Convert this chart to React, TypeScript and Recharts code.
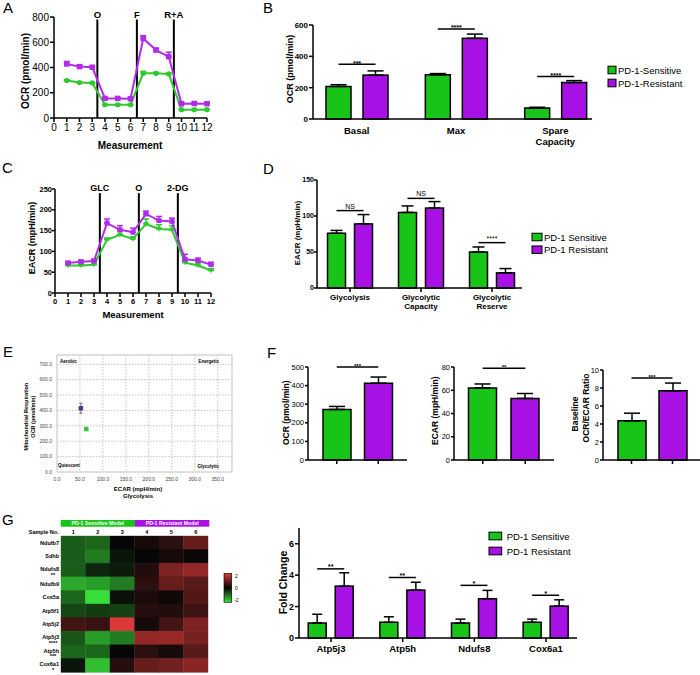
import React from "react";
import {
  LineChart,
  Line,
  BarChart,
  Bar,
  ScatterChart,
  Scatter,
  XAxis,
  YAxis,
  ErrorBar,
  ReferenceLine,
  ReferenceArea,
  CartesianGrid,
  Cell,
} from "recharts";

const FONT = '"Liberation Sans", Arial, Helvetica, sans-serif';
const GREEN = "#18c418";
const PURPLE = "#a711e3";
const GREEN_LINE = "#2fc82f";
const PURPLE_LINE = "#b12ce9";
const AXIS = { stroke: "#000", strokeWidth: 1.5 };

// ---- A: OCR time course
const MEASUREMENTS = [1, 2, 3, 4, 5, 6, 7, 8, 9, 10, 11, 12];
const MEAS_TICKS = [0, 1, 2, 3, 4, 5, 6, 7, 8, 9, 10, 11, 12];
const OCR_SENS = [297, 281, 278, 105, 105, 105, 354, 354, 349, 66, 66, 66];
const OCR_SENS_ERR = [6, 5, 5, 4, 4, 4, 15, 8, 8, 4, 4, 4];
const OCR_RES = [428, 407, 402, 155, 155, 152, 630, 538, 486, 113, 115, 113];
const OCR_RES_ERR = [20, 12, 10, 8, 6, 6, 22, 15, 35, 8, 6, 6];
const OCR_INJ = [3.4, 6.5, 9.4];
const OCR_INJ_LABELS = ["O", "F", "R+A"];
const OCR_TICKS = [0, 200, 400, 600, 800];

// ---- B: OCR parameters
const B_CATS = ["Basal", "Max", "Spare\nCapacity"];
const B_SENS = [208, 282, 70];
const B_SENS_ERR = [11, 8, 5];
const B_RES = [280, 515, 233];
const B_RES_ERR = [27, 27, 12];
const B_SIG = [350, 575, 271];
const B_MARKS = ["***", "****", "****"];
const B_TICKS = [0, 200, 400, 600];

// ---- C: ECAR time course
const ECAR_SENS = [66, 66, 68, 128, 140, 130, 166, 154, 152, 73, 66, 54];
const ECAR_SENS_ERR = [3, 3, 3, 4, 10, 5, 12, 10, 10, 4, 4, 4];
const ECAR_RES = [72, 75, 77, 168, 152, 146, 190, 174, 172, 81, 78, 68];
const ECAR_RES_ERR = [4, 4, 4, 10, 10, 10, 7, 10, 8, 12, 6, 6];
const ECAR_INJ = [3.45, 6.45, 9.45];
const ECAR_INJ_LABELS = ["GLC", "O", "2-DG"];
const ECAR_TICKS = [0, 50, 100, 150, 200, 250];

// ---- D: glycolysis parameters
const D_CATS = ["Glycolysis", "Glycolytic\nCapacity", "Glycolytic\nReserve"];
const D_SENS = [76, 105, 50];
const D_SENS_ERR = [4, 9, 7];
const D_RES = [89, 111, 21];
const D_RES_ERR = [13, 9, 6];
const D_SIG = [107.5, 124.5, 63];
const D_MARKS = ["NS", "NS", "****"];
const D_TICKS = [0, 50, 100, 150];

// ---- E: energy map
const E_SENS = { x: 63.7, y: 279, err: 6 };
const E_RES = { x: 52, y: 414, err: 33 };
const E_XTICKS = [0, 50, 100, 150, 200, 250, 300, 350];
const E_YTICKS = [0, 100, 200, 300, 400, 500, 600, 700];

// ---- F: baseline comparisons
const F_GROUPS = ["Sensitive", "Resistant"];
const F_OCR = [272, 413];
const F_OCR_ERR = [16, 33];
const F_ECAR = [62, 53];
const F_ECAR_ERR = [3.4, 4.2];
const F_RATIO = [4.35, 7.7];
const F_RATIO_ERR = [0.85, 0.85];

// ---- G: heatmap
const HEAT_GENES = ["Ndufb7", "Sdhb", "Ndufs8", "Ndufb9", "Cox5a", "Atp5f1", "Atp5j2", "Atp5j3", "Atp5h", "Cox6a1"];
const HEAT_STARS = ["", "", "**", "", "", "", "", "****", "***", "*"];
const SAMPLES = ["1", "2", "3", "4", "5", "6"];
const HEAT_Z = [
  [-0.8, -0.9, 0, 0.15, 0.35, 0.9],
  [-0.8, -1.1, -0.15, 0, 0.15, 0.05],
  [-0.8, -0.3, -0.2, 0.25, 1.1, 1.3],
  [-1.5, -1.4, -1.1, 0.35, 0.9, 0.75],
  [-0.9, -2, -0.1, 0.2, 0.1, 0.7],
  [-0.6, -0.5, -0.55, 0.3, 0.25, 0.5],
  [0.55, 0.45, 1.95, 0.15, 0.55, 1.1],
  [-0.75, -1.4, -1.1, 1.3, 1.35, 1.05],
  [-0.9, -0.9, 0, 0.35, 0.15, 0.75],
  [-0.15, -1.7, 0.3, 0.9, 1.0, 1.2],
];

// ---- G: qPCR fold change
const G_CATS = ["Atp5j3", "Atp5h", "Ndufs8", "Cox6a1"];
const G_SENS = [0.96, 1.0, 0.95, 1.0];
const G_SENS_ERR = [0.55, 0.35, 0.25, 0.2];
const G_RES = [3.3, 3.05, 2.5, 2.03];
const G_RES_ERR = [0.85, 0.5, 0.53, 0.4];
const G_SIG = [4.4, 3.85, 3.35, 2.72];
const G_MARKS = ["**", "**", "*", "*"];
const G_TICKS = [0, 2, 4, 6];

function heatColor(z: number) {
  const t = Math.min(1, Math.abs(z) / 2);
  const full = z < 0 ? [56, 222, 56] : [224, 58, 58];
  const base = 6;
  const c = full.map((v) => Math.round(base + (v - base) * t));
  return `rgb(${c[0]},${c[1]},${c[2]})`;
}

const square = (color: string, s: number) => (p: any) =>
  <rect key={`sq-${p.index}`} x={p.cx - s / 2} y={p.cy - s / 2} width={s} height={s} fill={color} />;

const circle = (color: string, r: number) => (p: any) =>
  <circle key={`ci-${p.index}`} cx={p.cx} cy={p.cy} r={r} fill={color} />;

const triangle = (color: string, s: number) => (p: any) =>
  <path key={`tr-${p.index}`} d={`M${p.cx - s / 2},${p.cy - s / 2.4}L${p.cx + s / 2},${p.cy - s / 2.4}L${p.cx},${p.cy + s / 2}Z`} fill={color} />;

function CatTick(props: any) {
  const { x, y, payload, fs, dy, lh } = props;
  const lines = String(payload.value).split("\n");
  return (
    <text x={x} y={y} textAnchor="middle" fontSize={fs} fontWeight="bold" fontFamily={FONT} fill="#000">
      {lines.map((l, i) => (
        <tspan key={i} x={x} dy={i === 0 ? dy : lh}>
          {l}
        </tspan>
      ))}
    </text>
  );
}

function timeRows(sens: number[], sensErr: number[], res: number[], resErr: number[]) {
  return MEASUREMENTS.map((m, i) => ({
    m,
    sens: sens[i],
    sErr: [0, sensErr[i]],
    res: res[i],
    rErr: [0, resErr[i]],
  }));
}

function GroupedBars(props: any) {
  const {
    cats, sens, sensErr, res, resErr, sig, marks, width, height, margin, yWidth, xHeight,
    domain, ticks, tickFs, yTickSize, yTickMargin, catFs, catDy, catLh, catTickLine, barSize, barGap, padding,
    errW, sigFs, sigBold, sigDy,
  } = props;
  const rows = cats.map((c: string, i: number) => ({
    cat: c,
    sens: sens[i],
    sErr: [0, sensErr[i]],
    res: res[i],
    rErr: [0, resErr[i]],
  }));
  const purpleShape = (p: any) => {
    const { x, y, width: w, height: h, index, payload } = p;
    const base = y + h;
    const sy = base - (sig[index] * h) / payload.res;
    const c2 = x + w / 2;
    const c1 = c2 - w - barGap;
    return (
      <g>
        <rect x={x} y={y} width={w} height={h} fill={PURPLE} stroke="#000" strokeWidth={1.5} />
        <line x1={c1} x2={c2} y1={sy} y2={sy} stroke="#000" strokeWidth={1.5} />
        <text
          x={(c1 + c2) / 2}
          y={sy + sigDy}
          textAnchor="middle"
          fontSize={sigFs}
          fontWeight={sigBold ? "bold" : "normal"}
          fontFamily={FONT}
          fill="#000"
        >
          {marks[index]}
        </text>
      </g>
    );
  };
  return (
    <BarChart width={width} height={height} data={rows} margin={margin} barSize={barSize} barGap={barGap}>
      <XAxis
        dataKey="cat"
        height={xHeight}
        padding={padding}
        axisLine={AXIS}
        tickLine={catTickLine ? AXIS : false}
        tickSize={4}
        interval={0}
        tick={(p: any) => <CatTick {...p} fs={catFs} dy={catDy} lh={catLh} />}
      />
      <YAxis
        width={yWidth}
        domain={domain}
        ticks={ticks}
        interval={0}
        tickSize={yTickSize}
        tickMargin={yTickMargin}
        axisLine={AXIS}
        tickLine={AXIS}
        tick={{ fontSize: tickFs, fontWeight: "bold", fill: "#000", fontFamily: FONT }}
      />
      <Bar dataKey="sens" fill={GREEN} stroke="#000" strokeWidth={1.5} isAnimationActive={false}>
        <ErrorBar dataKey="sErr" width={errW} stroke="#000" strokeWidth={1.5} isAnimationActive={false} />
      </Bar>
      <Bar dataKey="res" fill={PURPLE} shape={purpleShape} isAnimationActive={false}>
        <ErrorBar dataKey="rErr" width={errW} stroke="#000" strokeWidth={1.5} isAnimationActive={false} />
      </Bar>
    </BarChart>
  );
}

function PairBars(props: any) {
  const { values, errs, sig, mark, width, height, margin, yWidth, domain, ticks, padding } = props;
  const rows = F_GROUPS.map((g, i) => ({ g, v: values[i], err: [0, errs[i]] }));
  return (
    <BarChart width={width} height={height} data={rows} margin={margin} barSize={28}>
      <XAxis
        dataKey="g"
        height={15}
        padding={padding}
        axisLine={AXIS}
        tickLine={AXIS}
        tickSize={4}
        tickFormatter={() => ""}
      />
      <YAxis
        width={yWidth}
        domain={domain}
        ticks={ticks}
        interval={0}
        tickSize={3}
        tickMargin={1}
        axisLine={AXIS}
        tickLine={AXIS}
        tick={{ fontSize: 7.5, fill: "#000", fontFamily: FONT }}
      />
      <Bar dataKey="v" stroke="#000" strokeWidth={1.5} isAnimationActive={false}>
        {rows.map((r, i) => (
          <Cell key={r.g} fill={i === 0 ? GREEN : PURPLE} />
        ))}
        <ErrorBar dataKey="err" width={8} stroke="#000" strokeWidth={1.5} isAnimationActive={false} />
      </Bar>
      <ReferenceLine
        segment={[
          { x: F_GROUPS[0], y: sig },
          { x: F_GROUPS[1], y: sig },
        ]}
        stroke="#000"
        strokeWidth={1.5}
        label={{ value: mark, position: "top", offset: -1, fontSize: 6, fontWeight: "bold", fill: "#000", fontFamily: FONT }}
      />
    </BarChart>
  );
}

function T(props: any) {
  const { x, y, s, b, a = "middle", r, c = "#000", children } = props;
  return (
    <text
      x={x}
      y={y}
      fontSize={s}
      fontWeight={b ? "bold" : "normal"}
      textAnchor={a}
      dominantBaseline="central"
      fill={c}
      fontFamily={FONT}
      transform={r ? `rotate(-90 ${x} ${y})` : undefined}
    >
      {children}
    </text>
  );
}

function LegendItem(props: any) {
  const { x, y, w, h, color, label, fs, gap } = props;
  return (
    <g>
      <rect x={x} y={y - h / 2} width={w} height={h} fill={color} stroke="#000" strokeWidth={1} />
      <T x={x + w + gap} y={y} s={fs} a="start">
        {label}
      </T>
    </g>
  );
}

const pos = (left: number, top: number): React.CSSProperties => ({ position: "absolute", left, top });

export default function App() {
  const aRows = timeRows(OCR_SENS, OCR_SENS_ERR, OCR_RES, OCR_RES_ERR);
  const cRows = timeRows(ECAR_SENS, ECAR_SENS_ERR, ECAR_RES, ECAR_RES_ERR);
  const heatRows = HEAT_GENES.map((g) => {
    const row: any = { gene: g };
    SAMPLES.forEach((s) => (row[`s${s}`] = 1));
    return row;
  });

  return (
    <div style={{ position: "absolute", left: 0, top: 0, width: 700, height: 675, background: "#fff", fontFamily: FONT, overflow: "hidden" }}>
      {/* A */}
      <div style={pos(0, 0)}>
        <LineChart width={225} height={150} data={aRows} margin={{ top: 17, right: 18, bottom: 0, left: 0 }}>
          <XAxis
            type="number"
            dataKey="m"
            domain={[0, 12]}
            ticks={MEAS_TICKS}
            interval={0}
            height={32}
            tickSize={4}
            axisLine={AXIS}
            tickLine={AXIS}
            tick={{ fontSize: 10, fill: "#000", fontFamily: FONT }}
          />
          <YAxis
            width={54}
            domain={[0, 800]}
            ticks={OCR_TICKS}
            interval={0}
            tickSize={4}
            tickMargin={1}
            axisLine={AXIS}
            tickLine={AXIS}
            tick={{ fontSize: 10, fill: "#000", fontFamily: FONT }}
          />
          {OCR_INJ.map((v, i) => (
            <ReferenceLine
              key={v}
              segment={[
                { x: v, y: 0 },
                { x: v, y: 780 },
              ]}
              stroke="#000"
              strokeWidth={2}
              label={{ value: OCR_INJ_LABELS[i], position: "top", offset: 2, fontSize: 9.5, fontWeight: "bold", fill: "#000", fontFamily: FONT }}
            />
          ))}
          <Line dataKey="sens" stroke={GREEN_LINE} strokeWidth={2} dot={circle(GREEN_LINE, 2.6)} isAnimationActive={false}>
            <ErrorBar dataKey="sErr" width={3} stroke={GREEN_LINE} strokeWidth={1.5} direction="y" isAnimationActive={false} />
          </Line>
          <Line dataKey="res" stroke={PURPLE_LINE} strokeWidth={2} dot={square(PURPLE_LINE, 5.5)} isAnimationActive={false}>
            <ErrorBar dataKey="rErr" width={3} stroke={PURPLE_LINE} strokeWidth={1.5} direction="y" isAnimationActive={false} />
          </Line>
        </LineChart>
      </div>

      {/* B */}
      <div style={pos(230, 0)}>
        <GroupedBars
          cats={B_CATS}
          sens={B_SENS}
          sensErr={B_SENS_ERR}
          res={B_RES}
          resErr={B_RES_ERR}
          sig={B_SIG}
          marks={B_MARKS}
          width={370}
          height={150}
          margin={{ top: 25, right: 8, bottom: 0, left: 0 }}
          yWidth={83}
          xHeight={31}
          domain={[0, 600]}
          ticks={B_TICKS}
          tickFs={8}
          yTickSize={4}
          yTickMargin={1}
          catFs={9.5}
          catDy={8.5}
          catLh={11}
          catTickLine={false}
          barSize={25}
          barGap={12}
          padding={{ left: -6, right: -13 }}
          errW={8}
          sigFs={7}
          sigBold
          sigDy={1.5}
        />
      </div>

      {/* C */}
      <div style={pos(0, 150)}>
        <LineChart width={225} height={165} data={cRows} margin={{ top: 39, right: 14, bottom: 0, left: 0 }}>
          <XAxis
            type="number"
            dataKey="m"
            domain={[0, 12]}
            ticks={MEAS_TICKS}
            interval={0}
            height={22}
            tickSize={4}
            axisLine={AXIS}
            tickLine={AXIS}
            tick={{ fontSize: 7.5, fontWeight: "bold", fill: "#000", fontFamily: FONT }}
          />
          <YAxis
            width={55}
            domain={[0, 250]}
            ticks={ECAR_TICKS}
            interval={0}
            tickSize={3}
            tickMargin={0}
            axisLine={AXIS}
            tickLine={AXIS}
            tick={{ fontSize: 7.5, fontWeight: "bold", fill: "#000", fontFamily: FONT }}
          />
          {ECAR_INJ.map((v, i) => (
            <ReferenceLine
              key={v}
              segment={[
                { x: v, y: 0 },
                { x: v, y: 240 },
              ]}
              stroke="#000"
              strokeWidth={2}
              label={{ value: ECAR_INJ_LABELS[i], position: "top", offset: 2, fontSize: 9, fontWeight: "bold", fill: "#000", fontFamily: FONT }}
            />
          ))}
          <Line dataKey="sens" stroke={GREEN_LINE} strokeWidth={2} dot={triangle(GREEN_LINE, 5.5)} isAnimationActive={false}>
            <ErrorBar dataKey="sErr" width={3} stroke={GREEN_LINE} strokeWidth={1.5} direction="y" isAnimationActive={false} />
          </Line>
          <Line dataKey="res" stroke={PURPLE_LINE} strokeWidth={2} dot={square(PURPLE_LINE, 5)} isAnimationActive={false}>
            <ErrorBar dataKey="rErr" width={3} stroke={PURPLE_LINE} strokeWidth={1.5} direction="y" isAnimationActive={false} />
          </Line>
        </LineChart>
      </div>

      {/* D */}
      <div style={pos(230, 150)}>
        <GroupedBars
          cats={D_CATS}
          sens={D_SENS}
          sensErr={D_SENS_ERR}
          res={D_RES}
          resErr={D_RES_ERR}
          sig={D_SIG}
          marks={D_MARKS}
          width={300}
          height={165}
          margin={{ top: 30, right: 8, bottom: 0, left: 0 }}
          yWidth={87}
          xHeight={27}
          domain={[0, 150]}
          ticks={D_TICKS}
          tickFs={7}
          yTickSize={3}
          yTickMargin={0}
          catFs={8}
          catDy={5.8}
          catLh={9}
          catTickLine
          barSize={18}
          barGap={9}
          padding={{ left: -2.5, right: -5.5 }}
          errW={6}
          sigFs={7}
          sigBold={false}
          sigDy={-2}
        />
      </div>

      {/* E */}
      <div style={pos(0, 340)}>
        <ScatterChart width={250} height={165} margin={{ top: 15, right: 18, bottom: 0, left: 0 }}>
          <CartesianGrid stroke="#c4c4c4" strokeDasharray="1.5 1.5" />
          <XAxis
            type="number"
            dataKey="x"
            domain={[0, 381]}
            ticks={E_XTICKS}
            interval={0}
            height={33}
            axisLine={false}
            tickLine={false}
            tickSize={3}
            tickFormatter={(v: number) => v.toFixed(1)}
            tick={{ fontSize: 5, fill: "#444", fontFamily: FONT }}
          />
          <YAxis
            type="number"
            dataKey="y"
            width={57}
            domain={[0, 760]}
            ticks={E_YTICKS}
            interval={0}
            axisLine={false}
            tickLine={false}
            tickSize={3}
            tickFormatter={(v: number) => v.toFixed(1)}
            tick={{ fontSize: 5, fill: "#444", fontFamily: FONT }}
          />
          <ReferenceArea x1={0} x2={381} y1={0} y2={760} fill="none" stroke="#d0d0d0" strokeWidth={1} />
          <Scatter data={[E_RES]} shape={square("#5e2d91", 4.5)} isAnimationActive={false}>
            <ErrorBar dataKey="err" direction="y" width={1.5} stroke="#555" strokeWidth={0.8} isAnimationActive={false} />
          </Scatter>
          <Scatter data={[E_SENS]} shape={square("#3fbf3f", 4.5)} isAnimationActive={false}>
            <ErrorBar dataKey="err" direction="y" width={1.5} stroke="#555" strokeWidth={0.8} isAnimationActive={false} />
          </Scatter>
        </ScatterChart>
      </div>

      {/* F */}
      <div style={pos(250, 340)}>
        <PairBars
          values={F_OCR}
          errs={F_OCR_ERR}
          sig={500}
          mark="***"
          width={170}
          height={135}
          margin={{ top: 27, right: 13, bottom: 0, left: 0 }}
          yWidth={58}
          domain={[0, 500]}
          ticks={[0, 100, 200, 300, 400, 500]}
          padding={{ left: 8, right: 8 }}
        />
      </div>
      <div style={pos(420, 340)}>
        <PairBars
          values={F_ECAR}
          errs={F_ECAR_ERR}
          sig={79}
          mark="**"
          width={140}
          height={135}
          margin={{ top: 27, right: 6, bottom: 0, left: 0 }}
          yWidth={34}
          domain={[0, 80]}
          ticks={[0, 20, 40, 60, 80]}
          padding={{ left: 7.5, right: 7.5 }}
        />
      </div>
      <div style={pos(560, 340)}>
        <PairBars
          values={F_RATIO}
          errs={F_RATIO_ERR}
          sig={9.1}
          mark="***"
          width={140}
          height={135}
          margin={{ top: 30, right: 0, bottom: 0, left: 0 }}
          yWidth={43}
          domain={[0, 10]}
          ticks={[0, 2, 4, 6, 8, 10]}
          padding={{ left: 8, right: 7 }}
        />
      </div>

      {/* G heatmap */}
      <div style={pos(0, 515)}>
        <BarChart width={215} height={160} data={heatRows} layout="vertical" margin={{ top: 0, right: 7, bottom: 3, left: 0 }} barCategoryGap={0}>
          <XAxis
            type="number"
            orientation="top"
            domain={[0, SAMPLES.length]}
            ticks={SAMPLES.map((_, i) => i + 0.5)}
            interval={0}
            height={21}
            axisLine={false}
            tickLine={false}
            tickSize={0}
            tickMargin={2}
            tickFormatter={(v: number) => SAMPLES[Math.floor(v)]}
            tick={{ fontSize: 5.5, fontWeight: "bold", fill: "#000", fontFamily: FONT }}
          />
          <YAxis
            type="category"
            dataKey="gene"
            width={61}
            axisLine={false}
            tickLine={false}
            tickSize={0}
            tickMargin={2}
            interval={0}
            tick={(p: any) => {
              const star = HEAT_STARS[HEAT_GENES.indexOf(p.payload.value)];
              return (
                <text x={p.x} y={p.y} textAnchor="end" fontSize={5.5} fontWeight="bold" fontFamily={FONT} fill="#000">
                  <tspan x={p.x} dy={star ? 1 : 2}>
                    {p.payload.value}
                  </tspan>
                  {star ? (
                    <tspan x={p.x - 6} dy={5.5} textAnchor="middle">
                      {star}
                    </tspan>
                  ) : null}
                </text>
              );
            }}
          />
          {SAMPLES.map((s, j) => (
            <Bar key={s} dataKey={`s${s}`} stackId="heat" isAnimationActive={false}>
              {HEAT_GENES.map((g, i) => (
                <Cell key={g} fill={heatColor(HEAT_Z[i][j])} stroke={heatColor(HEAT_Z[i][j])} strokeWidth={0.4} />
              ))}
            </Bar>
          ))}
        </BarChart>
      </div>

      {/* G fold change */}
      <div style={pos(260, 515)}>
        <GroupedBars
          cats={G_CATS}
          sens={G_SENS}
          sensErr={G_SENS_ERR}
          res={G_RES}
          resErr={G_RES_ERR}
          sig={G_SIG}
          marks={G_MARKS}
          width={330}
          height={155}
          margin={{ top: 13, right: 13, bottom: 0, left: 0 }}
          yWidth={39}
          xHeight={32}
          domain={[0, 7]}
          ticks={G_TICKS}
          tickFs={9}
          yTickSize={4}
          yTickMargin={1}
          catFs={9.5}
          catDy={8.3}
          catLh={11}
          catTickLine
          barSize={18}
          barGap={9}
          padding={{ left: -3.8, right: -4.8 }}
          errW={5}
          sigFs={7.5}
          sigBold
          sigDy={0.5}
        />
      </div>

      {/* text overlay */}
      <svg width={700} height={675} style={{ position: "absolute", left: 0, top: 0, pointerEvents: "none" }}>
        <defs>
          <linearGradient id="heatScale" x1="0" y1="0" x2="0" y2="1">
            <stop offset="0%" stopColor={heatColor(2)} />
            <stop offset="50%" stopColor={heatColor(0)} />
            <stop offset="100%" stopColor={heatColor(-2)} />
          </linearGradient>
        </defs>
        <T x={3} y={7} s={15} a="start">A</T>
        <T x={263} y={7.7} s={15} a="start">B</T>
        <T x={2} y={167} s={15} a="start">C</T>
        <T x={263} y={168} s={15} a="start">D</T>
        <T x={3} y={351} s={15} a="start">E</T>
        <T x={267} y={352} s={15} a="start">F</T>
        <T x={2} y={519} s={15} a="start">G</T>

        <T x={25} y={71} s={10} b r>OCR (pmol/min)</T>
        <T x={130} y={145} s={10} b>Measurement</T>

        <T x={290} y={69} s={9} b r>OCR (pmol/min)</T>
        <LegendItem x={608} y={70} w={8} h={7.6} color={GREEN} label="PD-1-Sensitive" fs={9.5} gap={2} />
        <LegendItem x={608} y={83} w={8} h={7.6} color={PURPLE} label="PD-1-Resistant" fs={9.5} gap={2} />

        <T x={32} y={238} s={9} b r>EACR (mpH/min)</T>
        <T x={133} y={314} s={9.5} b>Measurement</T>

        <T x={297} y={233} s={8} b r>EACR (mpH/min)</T>
        <LegendItem x={532} y={237} w={10} h={7.5} color={GREEN} label="PD-1 Sensitive" fs={9.5} gap={2} />
        <LegendItem x={532} y={249.7} w={10} h={7.5} color={PURPLE} label="PD-1 Resistant" fs={9.5} gap={2} />

        <T x={25.7} y={416.7} s={5.5} b r>Mitochondrial Respiration</T>
        <T x={32.7} y={416.7} s={5.5} b r>OCR (pmol/min)</T>
        <T x={138} y={489.3} s={6} b>ECAR (mpH/min)</T>
        <T x={138} y={496} s={6} b>Glycolysis</T>
        <T x={60} y={361} s={4.5} b a="start">Aerobic</T>
        <T x={219} y={361} s={4.5} b a="end">Energetic</T>
        <T x={58} y={465} s={4.5} b a="start">Quiescent</T>
        <T x={219} y={466} s={4.5} b a="end">Glycolytic</T>

        <T x={286} y={412.7} s={8.5} b r>OCR (pmol/min)</T>
        <T x={435} y={410.7} s={8.5} b r>ECAR (mpH/min)</T>
        <T x={575} y={414} s={8.5} b r>Baseline</T>
        <T x={585.5} y={408} s={8.5} b r>OCR/ECAR Ratio</T>

        <rect x={60.7} y={520} width={74.3} height={6.7} fill={GREEN} />
        <rect x={135} y={520} width={74.3} height={6.7} fill={PURPLE} />
        <T x={97.8} y={523.4} s={5.2} b c="#fff">PD-1 Sensitive Model</T>
        <T x={172.2} y={523.4} s={5.2} b c="#fff">PD-1 Resistant Model</T>
        <T x={58.7} y={532.3} s={5.5} b a="end">Sample No.</T>
        <rect x={224} y={573.3} width={7.7} height={29} fill="url(#heatScale)" stroke="#000" strokeWidth={0.6} />
        <T x={235} y={576} s={5} a="start">2</T>
        <T x={235} y={587.7} s={5} a="start">0</T>
        <T x={234} y={600.3} s={5} a="start">-2</T>

        <T x={282.7} y={582.5} s={10.5} b r>Fold Change</T>
        <LegendItem x={489} y={536} w={12.7} h={7.7} color={GREEN} label="PD-1 Sensitive" fs={9.5} gap={5} />
        <LegendItem x={489} y={551} w={12.7} h={7.7} color={PURPLE} label="PD-1 Resistant" fs={9.5} gap={5} />
      </svg>
    </div>
  );
}
